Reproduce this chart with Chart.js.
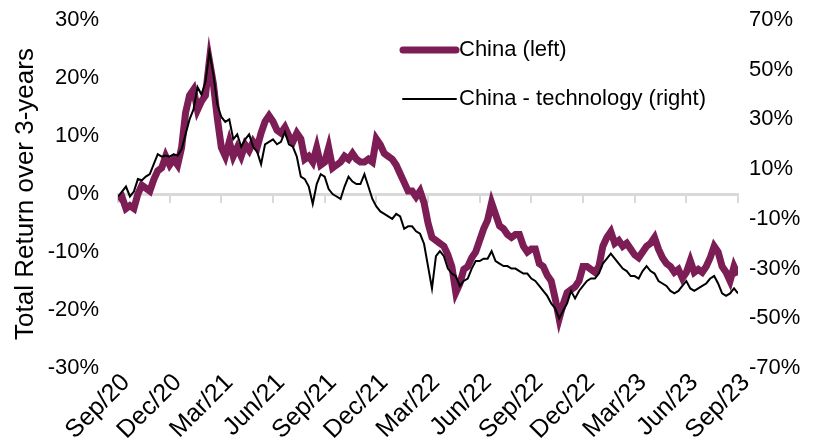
<!DOCTYPE html>
<html lang="en">
<head>
    <meta charset="UTF-8">
    <title>China vs China technology</title>
    <script src="https://cdn.jsdelivr.net/npm/chart.js"></script>
    <style>
        html, body { margin: 0; padding: 0; background: #fff; }
        #wrap { width: 820px; height: 445px; }
    </style>
</head>
<body>
<div id="wrap"><canvas id="lineChart" width="820" height="445"></canvas></div>
<script>
// quarter tick labels (one every 13 weeks)
var tickLabels = ["Sep/20", "Dec/20", "Mar/21", "Jun/21", "Sep/21", "Dec/21", "Mar/22",
                  "Jun/22", "Sep/22", "Dec/22", "Mar/23", "Jun/23", "Sep/23"];

// weekly total return, %
var china = [
    -1, -0.5, -2.5, -2, -2.5, 0, 1.5, 1, 0.5, 2.5,
    4, 4.5, 6.5, 5, 6, 5, 8, 14, 17, 18,
    14.5, 16, 17, 23, 19, 13, 8, 6.5, 9, 6.5,
    8, 6.5, 8.5, 7.5, 9, 8, 10.5, 12.5, 13.5, 12.5,
    11, 10.5, 11.5, 10, 9, 10.5, 9.5, 6, 6.5, 5.5,
    8, 5, 5.5, 8, 4.5, 5, 5.5, 6.5, 6, 7,
    6, 5.5, 5.5, 6, 5.5, 9.5, 8.5, 7, 6.5, 6,
    5, 3.5, 2, 0.5, 0.5, -0.5, 0.5, -1.5, -5, -7.5,
    -8, -8.5, -9, -10.5, -12.5, -17, -15.5, -13, -12.5, -11,
    -10, -8, -6, -4.5, -1.5, -3.5, -5.5, -6, -7, -7.5,
    -7, -7, -9, -10, -9.5, -9.5, -12, -12.5, -14, -15,
    -18, -21.5, -19, -17, -16.5, -16, -15, -12.5, -12.5, -13,
    -13.5, -12.5, -9, -7.5, -6.5, -8.5, -8, -9, -8.5, -9.5,
    -10.5, -11, -10, -9, -8.5, -7.5, -9.5, -11, -12, -12.5,
    -13.5, -13, -14.5, -13.5, -11.5, -13.5, -13, -13.5, -12.5, -11,
    -9, -10, -12.5, -13.5, -15, -12.5, -14
];

var chinaTech = [
    -1, 1, 3, -1, 1, 6, 5.5, 7, 8, 12,
    16, 15, 15.5, 15, 16, 15.5, 18, 24, 30, 34,
    43, 40, 45, 57, 48, 36, 31, 29, 30, 22,
    24, 19, 22, 24, 19, 17, 12, 20, 21, 22,
    20, 21, 25, 20, 19, 15, 7, 6, 3, -4,
    4, 8, 7, 2, 0, -1, -2, 3, 7, 5,
    4, 4, 8, 3, -2, -5, -7, -8, -9, -10,
    -8, -9, -14, -13, -13, -15, -16, -20, -29, -38,
    -25, -23, -25, -30, -32, -33, -37, -35, -34, -30,
    -27, -27, -26, -26, -23, -27, -28, -29, -29, -30,
    -30, -31, -32, -32, -34, -35, -37, -39, -41, -44,
    -46, -50, -47, -44, -39, -42, -39, -37, -35, -34,
    -34, -32, -28, -26, -24, -26, -28, -30, -31, -33,
    -33, -34, -31, -29, -31, -32, -35, -36, -37, -39,
    -40, -39, -37, -35, -38, -39, -38, -37, -36, -34,
    -33, -36, -40, -41, -40, -38, -40
];

var weeks = china.map(function(v, i) { return i; });

var seriesNames = ["China (left)", "China - technology (right)"];
var purple = "#7d1d55";
var fontFamily = "'Liberation Sans', Arial, sans-serif";

// legend drawn inside the plot, top right
var insideLegend = {
    id: "insideLegend",
    afterDraw: function(chart) {
        var ctx = chart.ctx;
        var area = chart.chartArea;
        var x0 = area.left + 285;
        var rows = [
            { y: area.top + 30, color: purple, width: 7, text: seriesNames[0] },
            { y: area.top + 79, color: "#000", width: 2, text: seriesNames[1] }
        ];
        ctx.save();
        ctx.font = "22px " + fontFamily;
        ctx.textBaseline = "middle";
        rows.forEach(function(r) {
            ctx.beginPath();
            ctx.lineCap = "round";
            ctx.strokeStyle = r.color;
            ctx.lineWidth = r.width;
            ctx.moveTo(x0, r.y);
            ctx.lineTo(x0 + 53, r.y);
            ctx.stroke();
            ctx.fillStyle = "#000";
            ctx.fillText(r.text, x0 + 56, r.y);
        });
        ctx.restore();
    }
};

// fixed side widths; no extra vertical padding from tick labels
function fitSide(width) {
    return function(scale) {
        scale.width = width;
        scale.paddingTop = 0;
        scale.paddingBottom = 0;
    };
}

function createChart() {
    var ctx = document.getElementById("lineChart").getContext("2d");
    Chart.defaults.font.family = fontFamily;
    Chart.defaults.font.size = 22;
    Chart.defaults.color = "#000";

    new Chart(ctx, {
        type: "line",
        data: {
            labels: weeks,
            datasets: [
                {
                    label: seriesNames[0],
                    data: china,
                    yAxisID: "y",
                    borderColor: purple,
                    borderWidth: 7,
                    pointRadius: 0,
                    tension: 0,
                    order: 2
                },
                {
                    label: seriesNames[1],
                    data: chinaTech,
                    yAxisID: "y2",
                    borderColor: "#000",
                    borderWidth: 2,
                    pointRadius: 0,
                    tension: 0,
                    order: 1
                }
            ]
        },
        options: {
            responsive: false,
            animation: false,
            layout: { padding: { top: 20, left: 0, right: 0, bottom: 0 } },
            plugins: {
                legend: { display: false },
                tooltip: { enabled: false }
            },
            scales: {
                x: {
                    type: "linear",
                    position: "bottom",
                    min: 0,
                    max: 156,
                    grid: { display: false },
                    border: { display: false },
                    afterFit: function(scale) { scale.height = 77; },
                    afterBuildTicks: function(scale) {
                        scale.ticks = tickLabels.map(function(t, i) { return { value: i * 13 }; });
                    },
                    ticks: {
                        autoSkip: false,
                        maxRotation: 45,
                        minRotation: 45,
                        padding: -8,
                        labelOffset: 8,
                        font: { size: 25 },
                        callback: function(v) { return tickLabels[Math.round(v / 13)]; }
                    }
                },
                // zero line with quarter tick marks
                xZero: {
                    type: "linear",
                    position: { y: 0 },
                    min: 0,
                    max: 156,
                    afterBuildTicks: function(scale) {
                        scale.ticks = tickLabels.map(function(t, i) { return { value: i * 13 }; });
                    },
                    grid: { drawOnChartArea: false, drawTicks: true, tickLength: 7, color: "#d9d9d9", lineWidth: 2 },
                    border: { display: true, color: "#d9d9d9", width: 3 },
                    ticks: { display: false }
                },
                y: {
                    position: "left",
                    min: -30,
                    max: 30,
                    grid: { display: false, drawTicks: false },
                    border: { display: false },
                    afterFit: fitSide(118),
                    title: {
                        display: true,
                        text: "Total Return over 3-years",
                        font: { size: 26 },
                        padding: { top: 10, bottom: 0 }
                    },
                    ticks: {
                        stepSize: 10,
                        padding: 19,
                        callback: function(v) { return v + "%"; }
                    }
                },
                y2: {
                    position: "right",
                    min: -70,
                    max: 70,
                    grid: { display: false, drawTicks: false },
                    border: { display: false },
                    afterFit: fitSide(82),
                    ticks: {
                        stepSize: 20,
                        padding: 11,
                        callback: function(v) { return v + "%"; }
                    }
                }
            }
        },
        plugins: [insideLegend]
    });
}

createChart();
</script>
</body>
</html>
